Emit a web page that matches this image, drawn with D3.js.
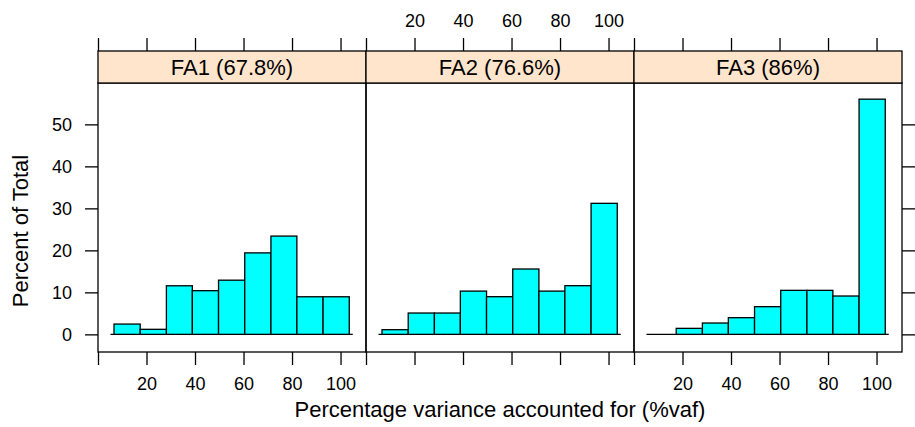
<!DOCTYPE html>
<html>
<head>
<meta charset="utf-8">
<script src="https://cdn.jsdelivr.net/npm/d3@7"></script>
<style>
  html, body { margin: 0; padding: 0; background: #fff; }
  svg text { font-family: "Liberation Sans", Arial, Helvetica, sans-serif; fill: #000; }
</style>
</head>
<body>
<svg id="chart" width="915" height="427"></svg>
<script>
// Histogram bin edges shared by every panel (percentage variance accounted for)
const binEdges = [6.6, 17.4, 28.2, 38.9, 49.7, 60.5, 71.3, 82.0, 92.8, 103.6];

// Panel titles
const panelTitles = ["FA1 (67.8%)", "FA2 (76.6%)", "FA3 (86%)"];

// Percent of total in each bin, one array per model
const fa1Percent = [2.45, 1.2, 11.57, 10.4, 12.9, 19.4, 23.4, 8.95, 8.95];
const fa2Percent = [1.11, 5.08, 5.08, 10.3, 8.97, 15.56, 10.3, 11.59, 31.2];
const fa3Percent = [0, 1.43, 2.7, 3.97, 6.59, 10.48, 10.48, 9.13, 56.0];

// Axis ticks
const xTicks = [0, 20, 40, 60, 80, 100];
const yTicks = [0, 10, 20, 30, 40, 50];

const seriesByPanel = [fa1Percent, fa2Percent, fa3Percent];

const svg = d3.select("#chart");

const panelLeft = 98, panelW = 268;
const stripTop = 51, plotTop = 83, plotBottom = 352;
const tickLen = 13;
const fontTick = 18, fontStrip = 22, fontTitle = 22;

const y = d3.scaleLinear().domain([-4.2, 59.85]).range([plotBottom, plotTop]);

const xLabel = d => d === 0 ? "" : String(d);

seriesByPanel.forEach((vals, p) => {
  const x0 = panelLeft + p * panelW;
  const x = d3.scaleLinear().domain([0, 110.5]).range([x0, x0 + panelW]);
  const g = svg.append("g");

  // bars
  const bins = vals.map((v, i) => ({ x0: binEdges[i], x1: binEdges[i + 1], v }));
  g.append("line")
    .attr("x1", x(binEdges[0]) - 3.5).attr("x2", x(binEdges[binEdges.length - 1]) + 3.5)
    .attr("y1", y(0)).attr("y2", y(0))
    .attr("stroke", "#000").attr("stroke-width", 1.3);
  g.selectAll("rect.bar").data(bins.filter(b => b.v > 0)).join("rect")
    .attr("class", "bar")
    .attr("x", b => x(b.x0))
    .attr("width", b => x(b.x1) - x(b.x0))
    .attr("y", b => y(b.v))
    .attr("height", b => y(0) - y(b.v))
    .attr("fill", "#00ffff")
    .attr("stroke", "#000")
    .attr("stroke-width", 1.3);

  // panel box
  g.append("rect")
    .attr("x", x0).attr("y", plotTop)
    .attr("width", panelW).attr("height", plotBottom - plotTop)
    .attr("fill", "none").attr("stroke", "#000").attr("stroke-width", 1.3);

  // strip
  g.append("rect")
    .attr("x", x0).attr("y", stripTop)
    .attr("width", panelW).attr("height", plotTop - stripTop)
    .attr("fill", "#ffe5cc").attr("stroke", "#000").attr("stroke-width", 1.3);
  g.append("text")
    .attr("x", x0 + panelW / 2).attr("y", stripTop + 24)
    .attr("text-anchor", "middle")
    .attr("font-size", fontStrip)
    .text(panelTitles[p]);

  // bottom axis (labels on panels 1 and 3)
  const bottom = g.append("g")
    .attr("transform", `translate(0,${plotBottom})`)
    .call(d3.axisBottom(x).tickValues(xTicks).tickSize(tickLen).tickSizeOuter(0)
      .tickFormat(p === 1 ? () => "" : xLabel));
  bottom.select(".domain").remove();
  bottom.selectAll(".tick line").attr("stroke", "#000").attr("stroke-width", 1.3);
  bottom.selectAll(".tick text")
    .attr("y", 37.5).attr("dy", null)
    .attr("font-size", fontTick).attr("font-family", null);

  // top axis (labels on panel 2)
  const top = g.append("g")
    .attr("transform", `translate(0,${stripTop})`)
    .call(d3.axisTop(x).tickValues(xTicks).tickSize(tickLen).tickSizeOuter(0)
      .tickFormat(p === 1 ? xLabel : () => ""));
  top.select(".domain").remove();
  top.selectAll(".tick line").attr("stroke", "#000").attr("stroke-width", 1.3);
  top.selectAll(".tick text")
    .attr("y", -23.7).attr("dy", null)
    .attr("font-size", fontTick).attr("font-family", null);
});

// left axis with labels
const left = svg.append("g")
  .attr("transform", `translate(${panelLeft},0)`)
  .call(d3.axisLeft(y).tickValues(yTicks).tickSize(tickLen).tickSizeOuter(0));
left.select(".domain").remove();
left.selectAll(".tick line").attr("stroke", "#000").attr("stroke-width", 1.3);
left.selectAll(".tick text")
  .attr("x", -26).attr("dy", "0.36em")
  .attr("font-size", fontTick).attr("font-family", null);

// right axis, ticks only
const right = svg.append("g")
  .attr("transform", `translate(${panelLeft + 3 * panelW},0)`)
  .call(d3.axisRight(y).tickValues(yTicks).tickSize(tickLen).tickSizeOuter(0).tickFormat(() => ""));
right.select(".domain").remove();
right.selectAll(".tick line").attr("stroke", "#000").attr("stroke-width", 1.3);

// axis titles
svg.append("text")
  .attr("x", panelLeft + 1.5 * panelW).attr("y", 417)
  .attr("text-anchor", "middle")
  .attr("font-size", fontTitle)
  .text("Percentage variance accounted for (%vaf)");

svg.append("text")
  .attr("transform", "translate(28,231) rotate(-90)")
  .attr("text-anchor", "middle")
  .attr("font-size", fontTitle)
  .text("Percent of Total");
</script>
</body>
</html>
